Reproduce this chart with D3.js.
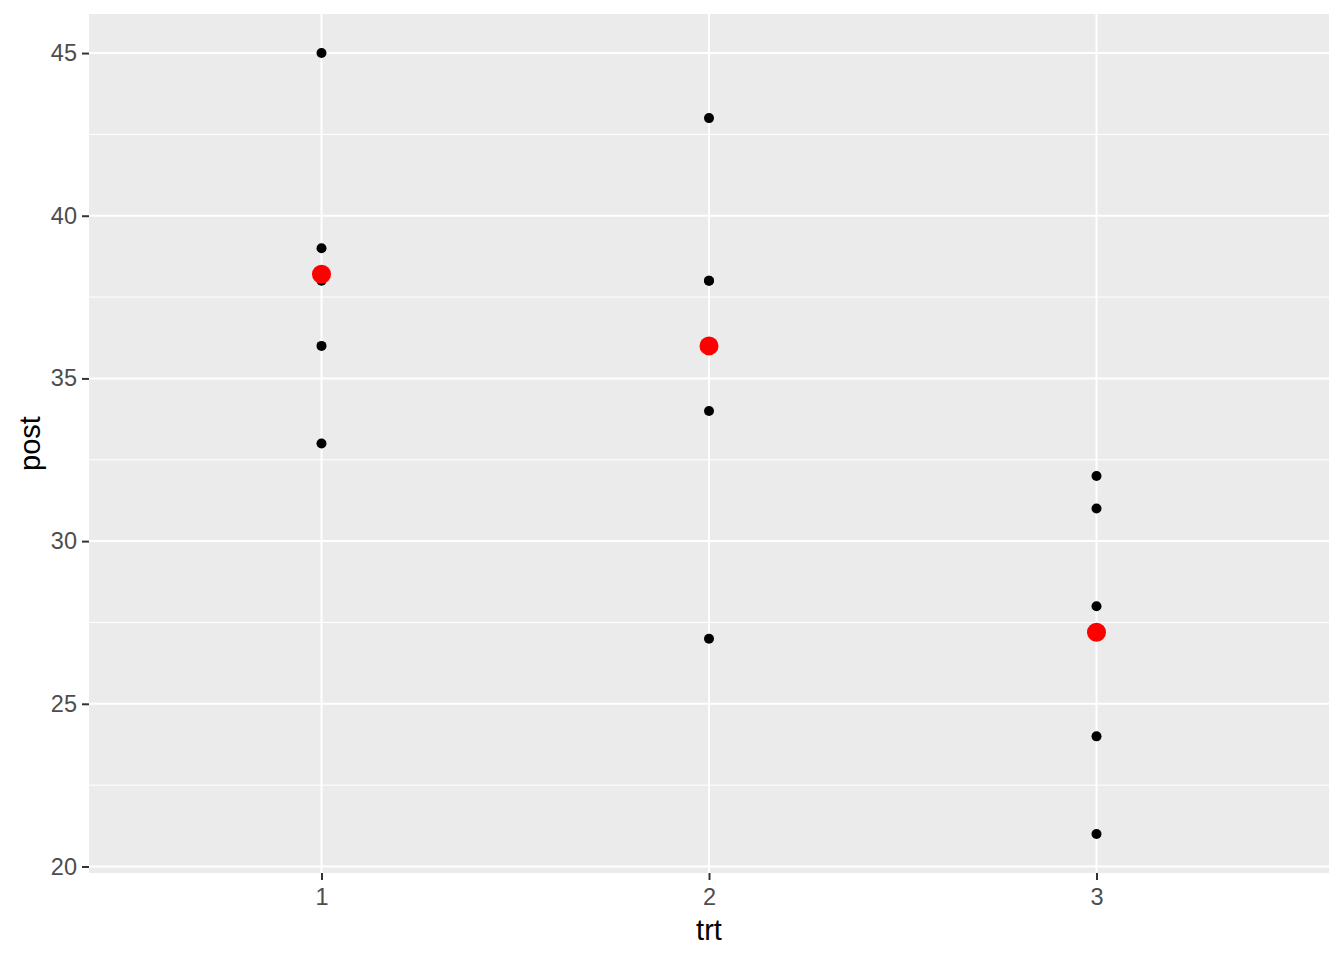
<!DOCTYPE html>
<html>
<head>
<meta charset="utf-8">
<script src="https://cdn.jsdelivr.net/npm/d3@7"></script>
<style>
	body { margin: 0; background: #fff; }
	text { font-family: 'Liberation Sans', Arial, sans-serif; }
</style>
</head>
<body>
<div id="chart"></div>
<script>
// observations, one per row
const trt = [ '1', '1', '1', '1', '1', '2', '2', '2', '2', '2', '3', '3', '3', '3', '3' ];
const post = [ 45, 39, 38, 36, 33, 43, 38, 38, 34, 27, 32, 31, 28, 24, 21 ];
const groups = [ '1', '2', '3' ];
const yTicks = [ 20, 25, 30, 35, 40, 45 ];
const yMinor = [ 22.5, 27.5, 32.5, 37.5, 42.5 ];

let dimensions = {
	width  : 1344,
	height : 960,
	margin : {
		top    : 14,
		right  : 15,
		bottom : 87,
		left   : 89
	}
};
dimensions.boundedWidth = dimensions.width - dimensions.margin.left - dimensions.margin.right;
dimensions.boundedHeight = dimensions.height - dimensions.margin.top - dimensions.margin.bottom;

const rows = trt.map((t, i) => ({ trt: t, post: post[i] }));
const means = groups.map((g) => ({
	trt  : g,
	post : d3.mean(rows.filter((d) => d.trt === g), (d) => d.post)
}));

const svg = d3
	.select('#chart')
	.append('svg')
	.attr('width', dimensions.width)
	.attr('height', dimensions.height);

const bounds = svg
	.append('g')
	.attr('transform', `translate(${dimensions.margin.left}, ${dimensions.margin.top})`);

// ggplot style expansion: 5% continuous, 0.6 discrete
const extent = d3.extent(post);
const pad = (extent[1] - extent[0]) * 0.05;
const y = d3.scaleLinear().domain([ extent[0] - pad, extent[1] + pad ]).range([ dimensions.boundedHeight, 0 ]);
const x = d3.scalePoint().domain(groups).range([ 0, dimensions.boundedWidth ]).padding(0.6);

// panel
bounds
	.append('rect')
	.attr('width', dimensions.boundedWidth)
	.attr('height', dimensions.boundedHeight)
	.attr('fill', '#EBEBEB');

bounds
	.selectAll('.minor')
	.data(yMinor)
	.enter()
	.append('line')
	.attr('x1', 0)
	.attr('x2', dimensions.boundedWidth)
	.attr('y1', (d) => y(d))
	.attr('y2', (d) => y(d))
	.attr('stroke', '#fff')
	.attr('stroke-width', 1);

bounds
	.selectAll('.hmajor')
	.data(yTicks)
	.enter()
	.append('line')
	.attr('x1', 0)
	.attr('x2', dimensions.boundedWidth)
	.attr('y1', (d) => y(d))
	.attr('y2', (d) => y(d))
	.attr('stroke', '#fff')
	.attr('stroke-width', 2);

bounds
	.selectAll('.vmajor')
	.data(groups)
	.enter()
	.append('line')
	.attr('y1', 0)
	.attr('y2', dimensions.boundedHeight)
	.attr('x1', (d) => x(d))
	.attr('x2', (d) => x(d))
	.attr('stroke', '#fff')
	.attr('stroke-width', 2);

// axes
const yAxis = bounds.append('g').call(d3.axisLeft(y).tickValues(yTicks).tickSize(7).tickPadding(5));
const xAxis = bounds
	.append('g')
	.attr('transform', `translate(0, ${dimensions.boundedHeight})`)
	.call(d3.axisBottom(x).tickSize(7).tickPadding(8));

[ xAxis, yAxis ].forEach((a) => {
	a.select('.domain').remove();
	a.selectAll('.tick line').attr('stroke', '#333333').attr('stroke-width', 2);
	a.selectAll('.tick text').attr('fill', '#4D4D4D').attr('font-size', '23.5px');
});

// points
bounds
	.selectAll('.obs')
	.data(rows)
	.enter()
	.append('circle')
	.attr('cx', (d) => x(d.trt))
	.attr('cy', (d) => y(d.post))
	.attr('r', 5)
	.attr('fill', '#000');

bounds
	.selectAll('.mean')
	.data(means)
	.enter()
	.append('circle')
	.attr('cx', (d) => x(d.trt))
	.attr('cy', (d) => y(d.post))
	.attr('r', 9.5)
	.attr('fill', '#FF0000');

// axis titles
svg
	.append('text')
	.attr('x', dimensions.margin.left + dimensions.boundedWidth / 2)
	.attr('y', 940)
	.attr('text-anchor', 'middle')
	.attr('font-size', '29px')
	.attr('fill', '#000')
	.text('trt');

svg
	.append('text')
	.attr('transform', `translate(40, ${dimensions.margin.top + dimensions.boundedHeight / 2}) rotate(-90)`)
	.attr('text-anchor', 'middle')
	.attr('font-size', '29px')
	.attr('fill', '#000')
	.text('post');
</script>
</body>
</html>
